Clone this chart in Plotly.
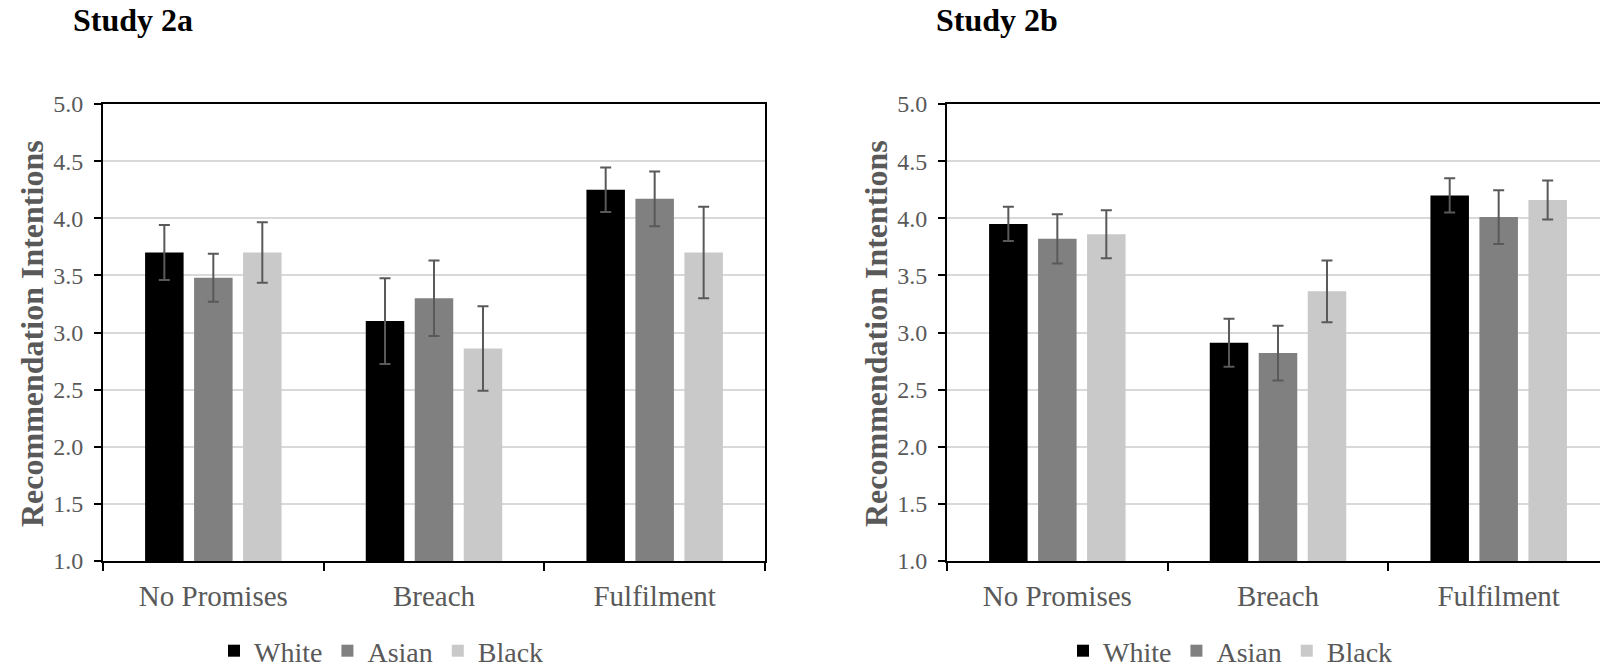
import plotly.graph_objects as go

categories = ["No Promises", "Breach", "Fulfilment"]
groups = ["White", "Asian", "Black"]
colors = ["#000000", "#808080", "#c9c9c9"]

# Study 2a
s2a_white = [3.70, 3.10, 4.25]
s2a_asian = [3.48, 3.30, 4.17]
s2a_black = [3.70, 2.86, 3.70]
s2a_white_err = [0.24, 0.375, 0.195]
s2a_asian_err = [0.21, 0.33, 0.24]
s2a_black_err = [0.265, 0.37, 0.40]

# Study 2b
s2b_white = [3.95, 2.91, 4.20]
s2b_asian = [3.82, 2.82, 4.01]
s2b_black = [3.86, 3.36, 4.16]
s2b_white_err = [0.15, 0.21, 0.15]
s2b_asian_err = [0.215, 0.24, 0.235]
s2b_black_err = [0.21, 0.27, 0.17]

panel_titles = ["Study 2a", "Study 2b"]
y_title = "Recommendation Intentions"
y_ticks = [1.0, 1.5, 2.0, 2.5, 3.0, 3.5, 4.0, 4.5, 5.0]

FONT = "Liberation Serif"
TXT = "#595959"

fig = go.Figure()

panels = [
    ([s2a_white, s2a_asian, s2a_black], [s2a_white_err, s2a_asian_err, s2a_black_err], "x", "y", "legend"),
    ([s2b_white, s2b_asian, s2b_black], [s2b_white_err, s2b_asian_err, s2b_black_err], "x2", "y2", "legend2"),
]
for vals, errs, xa, ya, lg in panels:
    for g, c, v, e in zip(groups, colors, vals, errs):
        fig.add_trace(go.Bar(
            x=categories, y=v, name=g, xaxis=xa, yaxis=ya, legend=lg,
            marker=dict(color=c, line=dict(width=0)),
            error_y=dict(type="data", array=e, visible=True, color="#595959",
                         thickness=2, width=5.5),
        ))

W, H = 1600, 668
y_top, y_bot = 104, 561
ydom = [(H - y_bot) / H, (H - y_top) / H]

common_x = dict(type="category", tickson="boundaries", ticks="outside", ticklen=8,
                tickwidth=2, tickcolor="black", showline=True, linecolor="black",
                linewidth=2, mirror=True, showgrid=False, automargin=False,
                tickfont=dict(family=FONT, size=29, color=TXT), ticklabelstandoff=8)
common_y = dict(range=[1, 5], tickvals=y_ticks, tickformat=".1f", ticks="outside",
                ticklen=7, tickwidth=2, tickcolor="black", showline=True,
                linecolor="black", linewidth=2, showgrid=True, gridcolor="#d9d9d9",
                gridwidth=1.5, zeroline=False, automargin=False,
                tickfont=dict(family=FONT, size=24, color=TXT), ticklabelstandoff=6)

fig.update_layout(
    width=W, height=H,
    margin=dict(l=0, r=0, t=0, b=0, autoexpand=False),
    paper_bgcolor="white", plot_bgcolor="white",
    barmode="group", bargap=0.334, bargroupgap=0.214,
    font=dict(family=FONT, color=TXT),
    xaxis=dict(common_x, domain=[103 / W, 765 / W], range=[-0.5, 2.5], anchor="y"),
    yaxis=dict(common_y, domain=ydom, anchor="x", mirror=True),
    xaxis2=dict(common_x, domain=[947 / W, 1.0], range=[-0.5, -0.5 + 653 / 220.67], anchor="y2"),
    yaxis2=dict(common_y, domain=ydom, anchor="x2", mirror=False),
    legend=dict(orientation="h", x=214 / W, xanchor="left", y=(H - 651) / H, yanchor="middle",
                font=dict(family=FONT, size=28, color=TXT), bgcolor="rgba(0,0,0,0)"),
    legend2=dict(orientation="h", x=1063 / W, xanchor="left", y=(H - 651) / H, yanchor="middle",
                 font=dict(family=FONT, size=28, color=TXT), bgcolor="rgba(0,0,0,0)"),
    annotations=[
        dict(text="<b>" + panel_titles[0] + "</b>", x=71 / W, y=1 - 20 / H, xref="paper", yref="paper",
             xanchor="left", yanchor="middle", showarrow=False,
             font=dict(family=FONT, size=32, color="black")),
        dict(text="<b>" + panel_titles[1] + "</b>", x=934 / W, y=1 - 20 / H, xref="paper", yref="paper",
             xanchor="left", yanchor="middle", showarrow=False,
             font=dict(family=FONT, size=32, color="black")),
        dict(text="<b>" + y_title + "</b>", x=32 / W, y=(H - 334) / H, xref="paper", yref="paper",
             xanchor="center", yanchor="middle", textangle=-90, showarrow=False,
             font=dict(family=FONT, size=32, color=TXT)),
        dict(text="<b>" + y_title + "</b>", x=876 / W, y=(H - 334) / H, xref="paper", yref="paper",
             xanchor="center", yanchor="middle", textangle=-90, showarrow=False,
             font=dict(family=FONT, size=32, color=TXT)),
    ],
)

fig.write_html("out.html")
